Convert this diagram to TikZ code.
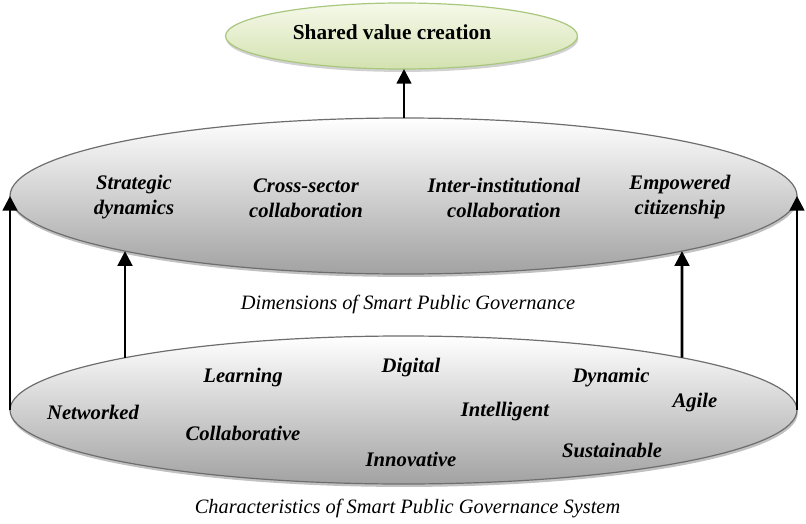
\documentclass[tikz,border=0pt]{standalone}
\usepackage{fontspec}
\setmainfont{Liberation Serif}
\usetikzlibrary{shapes.geometric,shadows,arrows.meta,intersections}

\definecolor{rimgray}{HTML}{6E6E6E}
\definecolor{lowgray}{HTML}{A2A2A2}
\definecolor{leafrim}{HTML}{A9C77E}
\definecolor{leaftop}{HTML}{F6F9EA}
\definecolor{leafbot}{HTML}{D3E2B0}

\tikzset{
  disc/.style={ellipse, inner sep=0pt, outer sep=0pt, draw=rimgray, line width=0.9pt,
    top color=white, bottom color=lowgray,
    drop shadow={shadow xshift=0.6pt, shadow yshift=-2.2pt, fill=black!35, opacity=0.7}},
  goal/.style={ellipse, inner sep=0pt, outer sep=0pt, draw=leafrim, line width=0.9pt,
    top color=leaftop, bottom color=leafbot,
    drop shadow={shadow xshift=0.6pt, shadow yshift=-2.2pt, fill=black!30, opacity=0.6}},
  dim/.style={font=\fontsize{15.5}{19}\selectfont\bfseries\itshape, align=center, inner sep=0pt},
  trait/.style={font=\fontsize{15.5}{19}\selectfont\bfseries\itshape, inner sep=0pt},
  caption/.style={font=\fontsize{15.3}{18}\selectfont\itshape, inner sep=0pt},
  arr/.style={line width=1.9pt, -{Triangle[length=11pt,width=11pt]}}
}

\begin{document}
\begin{tikzpicture}[x=0.75pt,y=-0.75pt]
  \useasboundingbox (0,0) rectangle (806,524);

  % the three ellipses
  \node[goal, minimum width=264pt, minimum height=49.5pt] (goal) at (401.5,36) {};
  \node[disc, minimum width=590.25pt, minimum height=117pt] (mid) at (403.5,196) {};
  \node[disc, minimum width=590.25pt, minimum height=111pt] (bot) at (403.5,410) {};

  % outlines of the two grey ellipses, used to place the inner connectors
  \path[name path=midrim] (mid.center) ellipse [x radius=393.5, y radius=78];
  \path[name path=botrim] (bot.center) ellipse [x radius=393.5, y radius=74];

  \node[font=\fontsize{16}{19}\selectfont\bfseries, inner sep=0pt] (title) at (392,32) {Shared value creation};

  % dimensions
  \node[dim] (d1) at (134,197) {Strategic\\dynamics};
  \node[dim] (d2) at (306,198) {Cross-sector\\collaboration};
  \node[dim] (d3) at (504,198) {Inter-institutional\\collaboration};
  \node[dim] (d4) at (680,197) {Empowered\\citizenship};
  \node[caption] (dimcap) at (408,304) {Dimensions of Smart Public Governance};

  % characteristics
  \node[trait] (c1) at (93,412) {Networked};
  \node[trait] (c2) at (243,378) {Learning};
  \node[trait] (c3) at (411,368) {Digital};
  \node[trait] (c4) at (611,378) {Dynamic};
  \node[trait] (c5) at (695,403) {Agile};
  \node[trait] (c6) at (505,412) {Intelligent};
  \node[trait] (c7) at (243,433) {Collaborative};
  \node[trait] (c8) at (411,459) {Innovative};
  \node[trait] (c9) at (612,450) {Sustainable};
  \node[caption] (syscap) at (407.5,509) {Characteristics of Smart Public Governance System};

  % vertical guides for the two inner connectors
  \path[name path=lguide] (125,395) -- (125,205);
  \path[name path=rguide] (682,395) -- (682,205);
  \path[name intersections={of=lguide and botrim, by={lb}}];
  \path[name intersections={of=lguide and midrim, by={lm}}];
  \path[name intersections={of=rguide and botrim, by={rb}}];
  \path[name intersections={of=rguide and midrim, by={rm}}];

  % connectors
  \draw[arr] (mid.north -| goal.south) ++(2.5,0) coordinate (ms) -- (ms |- goal.south);
  \draw[arr] (bot.west) -- (mid.west);
  \draw[arr] (bot.east) -- (mid.east);
  \draw[arr] (lb) -- (lm);
  \draw[arr] (rb) -- (rm);
\end{tikzpicture}
\end{document}
